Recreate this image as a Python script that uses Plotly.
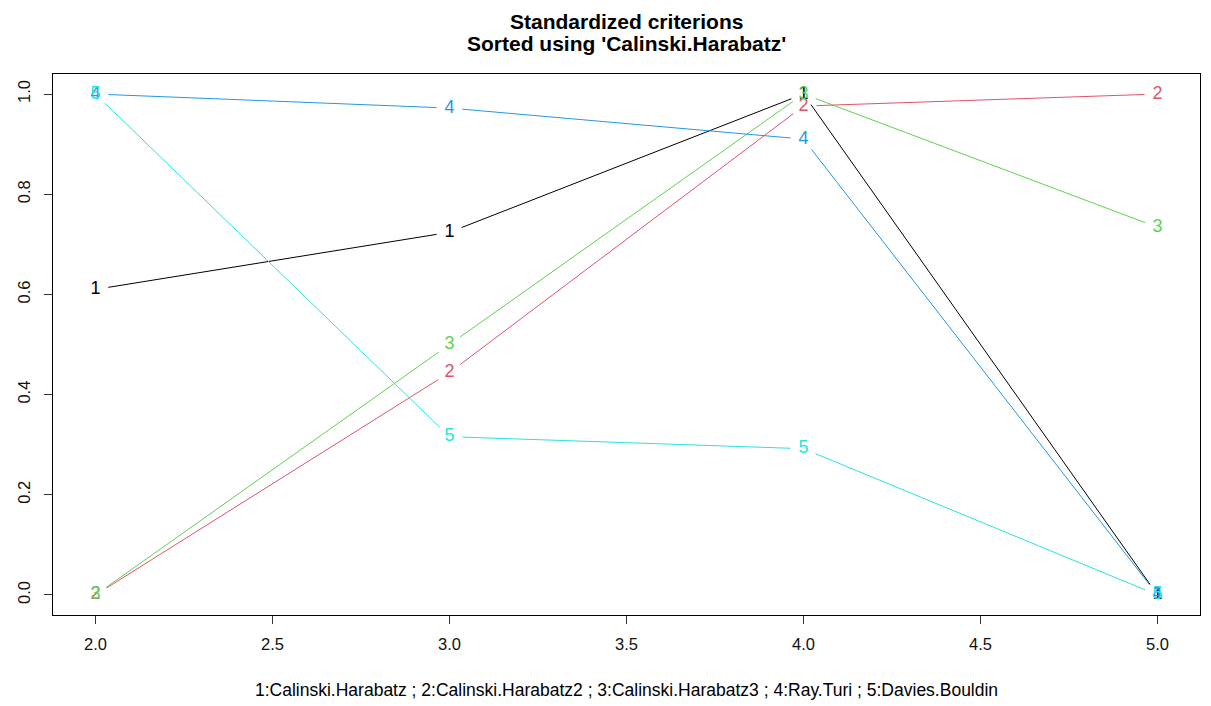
import plotly.graph_objects as go

# Number of clusters evaluated
clusters = [2, 3, 4, 5]

# Standardized criterion values, one list per criterion
calinski_harabatz = [0.61, 0.724, 1.0, 0.0]
calinski_harabatz2 = [0.0, 0.444, 0.976, 1.0]
calinski_harabatz3 = [0.0, 0.50, 1.0, 0.734]
ray_turi = [1.0, 0.972, 0.91, 0.0]
davies_bouldin = [1.0, 0.316, 0.292, 0.0]

series_names = ["Calinski.Harabatz", "Calinski.Harabatz2", "Calinski.Harabatz3",
                "Ray.Turi", "Davies.Bouldin"]
series_values = [calinski_harabatz, calinski_harabatz2, calinski_harabatz3,
                 ray_turi, davies_bouldin]
series_colors = ["#000000", "#DF536B", "#61D04F", "#2297E6", "#28E2E5"]

x_ticks = [2.0, 2.5, 3.0, 3.5, 4.0, 4.5, 5.0]
y_ticks = [0.0, 0.2, 0.4, 0.6, 0.8, 1.0]

FONT = "Liberation Sans, Arial, sans-serif"
W, H = 1211, 706
M_L, M_R, M_T, M_B = 53, 11, 74, 91
X_RANGE = [1.88, 5.12]
Y_RANGE = [-0.04, 1.04]

# pixels per data unit, used to leave a gap around each numbered point
sx = (W - M_L - M_R) / (X_RANGE[1] - X_RANGE[0])
sy = (H - M_T - M_B) / (Y_RANGE[1] - Y_RANGE[0])
GAP = 13


def gapped_segments(xs, ys, gap=GAP):
    out_x, out_y = [], []
    for i in range(len(xs) - 1):
        dx = (xs[i + 1] - xs[i]) * sx
        dy = (ys[i + 1] - ys[i]) * sy
        length = (dx * dx + dy * dy) ** 0.5
        if length <= 2 * gap:
            continue
        f = gap / length
        x0 = xs[i] + (xs[i + 1] - xs[i]) * f
        y0 = ys[i] + (ys[i + 1] - ys[i]) * f
        x1 = xs[i + 1] - (xs[i + 1] - xs[i]) * f
        y1 = ys[i + 1] - (ys[i + 1] - ys[i]) * f
        out_x += [x0, x1, None]
        out_y += [y0, y1, None]
    return out_x, out_y


fig = go.Figure()
for k, (name, vals, col) in enumerate(zip(series_names, series_values, series_colors)):
    lx, ly = gapped_segments(clusters, vals)
    fig.add_trace(go.Scatter(x=lx, y=ly, mode="lines",
                             line=dict(color=col, width=1),
                             hoverinfo="skip", showlegend=False))
    fig.add_trace(go.Scatter(x=clusters, y=vals, mode="text",
                             text=[str(k + 1)] * len(clusters),
                             textposition="middle center",
                             textfont=dict(color=col, size=18, family=FONT),
                             name=name, showlegend=False))

legend_text = " ; ".join(f"{i + 1}:{n}" for i, n in enumerate(series_names))

axis_common = dict(showgrid=False, zeroline=False, showline=True, mirror=True,
                   linecolor="#000000", linewidth=1, ticks="outside", ticklen=8,
                   tickcolor="#333333", tickwidth=1,
                   tickfont=dict(size=16.5, color="#111111", family=FONT))

plot_h = H - M_T - M_B


def pix_to_paper_y(py):
    return (H - M_B - py) / plot_h


fig.update_layout(
    width=W, height=H,
    margin=dict(l=M_L, r=M_R, t=M_T, b=M_B),
    paper_bgcolor="white", plot_bgcolor="white",
    xaxis=dict(range=X_RANGE, tickvals=x_ticks,
               ticktext=[f"{v:.1f}" for v in x_ticks],
               ticklabelstandoff=6, **axis_common),
    yaxis=dict(range=Y_RANGE, tickvals=y_ticks,
               ticktext=[f"{v:.1f}" for v in y_ticks], tickangle=-90,
               ticklabelstandoff=7, **axis_common),
    annotations=[
        dict(text="<b>Standardized criterions</b>", x=0.5, y=pix_to_paper_y(21),
             xref="paper", yref="paper", yanchor="middle", showarrow=False,
             font=dict(size=21, color="#000000", family=FONT)),
        dict(text="<b>Sorted using 'Calinski.Harabatz'</b>", x=0.5,
             y=pix_to_paper_y(44), xref="paper", yref="paper", yanchor="middle",
             showarrow=False, font=dict(size=21, color="#000000", family=FONT)),
        dict(text=legend_text, x=0.5, y=pix_to_paper_y(690), xref="paper",
             yref="paper", yanchor="middle", showarrow=False,
             font=dict(size=17.5, color="#000000", family=FONT)),
    ],
)

fig.write_html("out.html")
